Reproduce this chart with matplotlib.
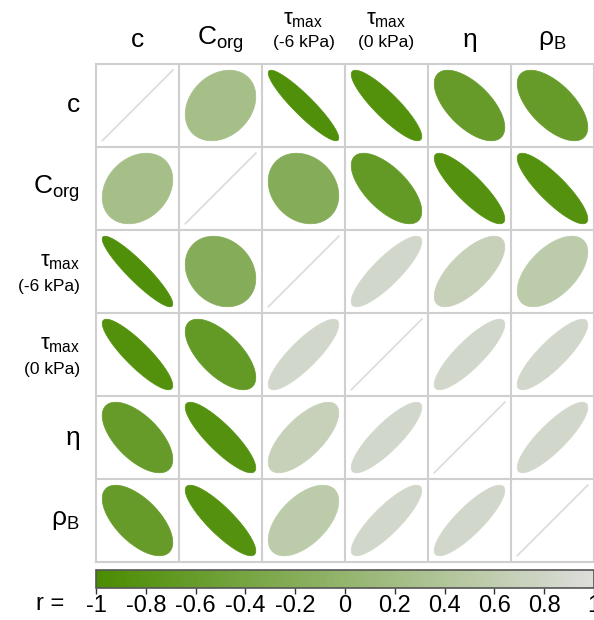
import numpy as np
import matplotlib.pyplot as plt
from matplotlib.colors import LinearSegmentedColormap, Normalize
from matplotlib.cm import ScalarMappable
from matplotlib.patches import Polygon

plt.rcParams['font.family'] = ['Liberation Sans', 'DejaVu Sans']
plt.rcParams['mathtext.fontset'] = 'custom'
plt.rcParams['mathtext.rm'] = 'Liberation Sans'
plt.rcParams['mathtext.it'] = 'Liberation Sans:italic'

# variable labels (main part, optional second line)
labels = ['c', r'C$_\mathregular{org}$', r'τ$_\mathregular{max}$', r'τ$_\mathregular{max}$', 'η', r'ρ$_\mathregular{B}$']
sublabels = ['', '', '(-6 kPa)', '(0 kPa)', '', '']

# correlation matrix
r_c = [1.00, 0.25, -0.92, -0.88, -0.62, -0.62]
r_corg = [0.25, 1.00, -0.20, -0.65, -0.86, -0.86]
r_t6 = [-0.92, -0.20, 1.00, 0.85, 0.70, 0.55]
r_t0 = [-0.88, -0.65, 0.85, 1.00, 0.85, 0.85]
r_eta = [-0.62, -0.86, 0.70, 0.85, 1.00, 0.85]
r_rho = [-0.62, -0.86, 0.55, 0.85, 0.85, 1.00]
corr = np.array([r_c, r_corg, r_t6, r_t0, r_eta, r_rho])

cbar_ticks = [-1, -0.8, -0.6, -0.4, -0.2, 0, 0.2, 0.4, 0.6, 0.8, 1]

cmap = LinearSegmentedColormap.from_list('gg', ['#4A8C00', '#DDDDDB'])
norm = Normalize(-1, 1)


def ellipse_xy(rho, n=200):
    # same shape as corrplot's ellipse method
    k = np.linspace(0, 2 * np.pi, n)
    a = np.arccos(np.clip(rho, -1, 1))
    x = 0.85 * np.cos(k + a / 2) / 2
    y = 0.85 * np.cos(k - a / 2) / 2
    return x, y


W, H = 594, 620
fig = plt.figure(figsize=(W / 100, H / 100), dpi=100)

# main matrix
ax = fig.add_axes([96 / W, 1 - 562 / H, 498 / W, 498 / H])
n = len(labels)
ax.set_xlim(0, n)
ax.set_ylim(0, n)
ax.set_axis_off()

for i in range(n):
    for j in range(n):
        rho = corr[i, j]
        cx = j + 0.5
        cy = n - i - 0.5
        x, y = ellipse_xy(rho)
        col = cmap(norm(rho))
        if i == j:
            ax.plot(cx + x, cy + y, color='#e2e2e2', lw=1.1)
        else:
            ax.add_patch(Polygon(np.column_stack([cx + x, cy + y]), closed=True,
                                 facecolor=col, edgecolor=col, lw=0.5))

for k in range(n + 1):
    ax.plot([k, k], [0, n], color='#cfcfcf', lw=1.5, clip_on=False)
    ax.plot([0, n], [k, k], color='#cfcfcf', lw=1.5, clip_on=False)

# column headers
for j in range(n):
    xf = (96 + 83 * (j + 0.5)) / W
    if sublabels[j]:
        fig.text(xf, 1 - 20 / H, labels[j], ha='center', va='center', fontsize=16)
        fig.text(xf, 1 - 43 / H, sublabels[j], ha='center', va='center', fontsize=12.5)
    else:
        fig.text(xf, 1 - 40 / H, labels[j], ha='center', va='center', fontsize=19)

# row headers
for i in range(n):
    yc = 64 + 83 * (i + 0.5)
    if sublabels[i]:
        fig.text(80 / W, 1 - (yc - 10) / H, labels[i], ha='right', va='center', fontsize=16)
        fig.text(80 / W, 1 - (yc + 15) / H, sublabels[i], ha='right', va='center', fontsize=12.5)
    else:
        fig.text(80 / W, 1 - yc / H, labels[i], ha='right', va='center', fontsize=19)

# colour bar
cax = fig.add_axes([96 / W, 1 - 588 / H, 498 / W, 18 / H])
cb = fig.colorbar(ScalarMappable(norm=norm, cmap=cmap), cax=cax, orientation='horizontal')
cb.set_ticks(cbar_ticks)
cb.set_ticklabels(['%g' % t for t in cbar_ticks])
cb.outline.set_edgecolor('#555555')
cb.outline.set_linewidth(1.2)
cax.tick_params(axis='x', length=4, width=1, color='#333333', labelsize=17, pad=1)
fig.text(50 / W, 1 - 604 / H, 'r =', ha='center', va='center', fontsize=17)

fig.savefig('out.png', dpi=100)
